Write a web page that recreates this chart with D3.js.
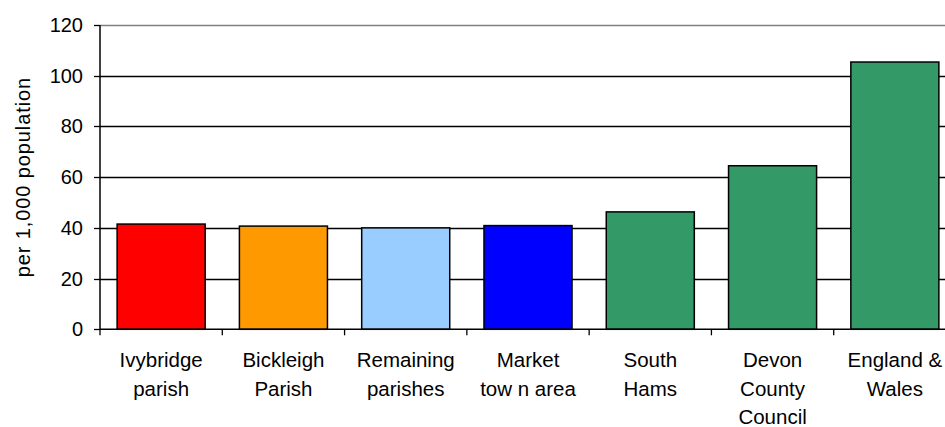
<!DOCTYPE html>
<html>
<head>
	<meta charset="utf-8">
	<script src="https://cdn.jsdelivr.net/npm/d3@7"></script>
	<style>
		*{ margin:0; padding:0; }
		body{ background:#fff; }
		text{ font-family:"Liberation Sans", Arial, sans-serif; fill:#000; }
	</style>
</head>
<body>
	<svg id="chart" width="945" height="427"></svg>
	<script>
		// data
		var categories = [["Ivybridge","parish"],["Bickleigh","Parish"],["Remaining","parishes"],["Market","tow n area"],["South","Hams"],["Devon","County","Council"],["England &","Wales"]];
		var values = [41.5, 40.7, 40.0, 40.9, 46.3, 64.5, 105.4];
		var colors = ["#ff0000","#ff9900","#99ccff","#0000ff","#339966","#339966","#339966"];
		var yTicks = [0,20,40,60,80,100,120];

		var svg = d3.select("#chart");
		var pLeft = 100, pRight = 956, pTop = 25, pBottom = 329.3;

		var x = d3.scaleBand().domain(d3.range(categories.length)).range([pLeft, pRight])
			.paddingInner(0.28).paddingOuter(0.14);
		var y = d3.scaleLinear().domain([0,120]).range([pBottom, pTop]);

		// gridlines
		svg.append("g").selectAll("line").data(yTicks.filter(function(d){ return d>0; }))
			.enter().append("line")
			.attr("x1", pLeft).attr("x2", 945)
			.attr("y1", function(d){ return Math.round(y(d))+0.5; })
			.attr("y2", function(d){ return Math.round(y(d))+0.5; })
			.attr("stroke", function(d){ return d==120 ? "#808080" : "#000"; })
			.attr("stroke-width", 1.3);

		// bars
		svg.append("g").selectAll("rect").data(values).enter().append("rect")
			.attr("x", function(d,i){ return x(i); })
			.attr("width", x.bandwidth())
			.attr("y", function(d){ return y(d); })
			.attr("height", function(d){ return y(0)-y(d); })
			.attr("fill", function(d,i){ return colors[i]; })
			.attr("stroke", "#000").attr("stroke-width", 1.5);

		// y axis
		var ya = svg.append("g");
		ya.append("line").attr("x1", pLeft).attr("x2", pLeft).attr("y1", pTop).attr("y2", pBottom)
			.attr("stroke","#000").attr("stroke-width",1.5);
		ya.selectAll(".tk").data(yTicks).enter().append("line")
			.attr("x1", pLeft-6).attr("x2", pLeft)
			.attr("y1", function(d){ return Math.round(y(d))+0.5; })
			.attr("y2", function(d){ return Math.round(y(d))+0.5; })
			.attr("stroke","#000").attr("stroke-width",1.3);
		ya.selectAll("text").data(yTicks).enter().append("text")
			.attr("x", 83).attr("y", function(d){ return y(d); })
			.attr("dy","0.35em").attr("text-anchor","end")
			.style("font-size","20px")
			.text(function(d){ return d; });

		// x axis
		var xa = svg.append("g");
		xa.append("line").attr("x1", pLeft).attr("x2", 945).attr("y1", pBottom).attr("y2", pBottom)
			.attr("stroke","#000").attr("stroke-width",1.5);
		xa.selectAll(".tk").data(d3.range(categories.length+1)).enter().append("line")
			.attr("x1", function(i){ return pLeft + i*x.step(); })
			.attr("x2", function(i){ return pLeft + i*x.step(); })
			.attr("y1", pBottom).attr("y2", pBottom+6)
			.attr("stroke","#000").attr("stroke-width",1.3);
		var lab = xa.selectAll(".lab").data(categories).enter().append("text")
			.attr("text-anchor","middle").style("font-size","20.5px")
			.attr("transform", function(d,i){ return "translate(" + (x(i)+x.bandwidth()/2) + ",367)"; });
		lab.selectAll("tspan").data(function(d){ return d; }).enter().append("tspan")
			.attr("x",0).attr("y", function(d,j){ return j*28.7; })
			.text(function(d){ return d; });

		// y title
		svg.append("text").attr("transform","translate(30," + ((pTop+pBottom)/2) + ") rotate(-90)")
			.attr("text-anchor","middle").style("font-size","20px").style("letter-spacing","0.9px")
			.text("per 1,000 population");
	</script>
</body>
</html>
